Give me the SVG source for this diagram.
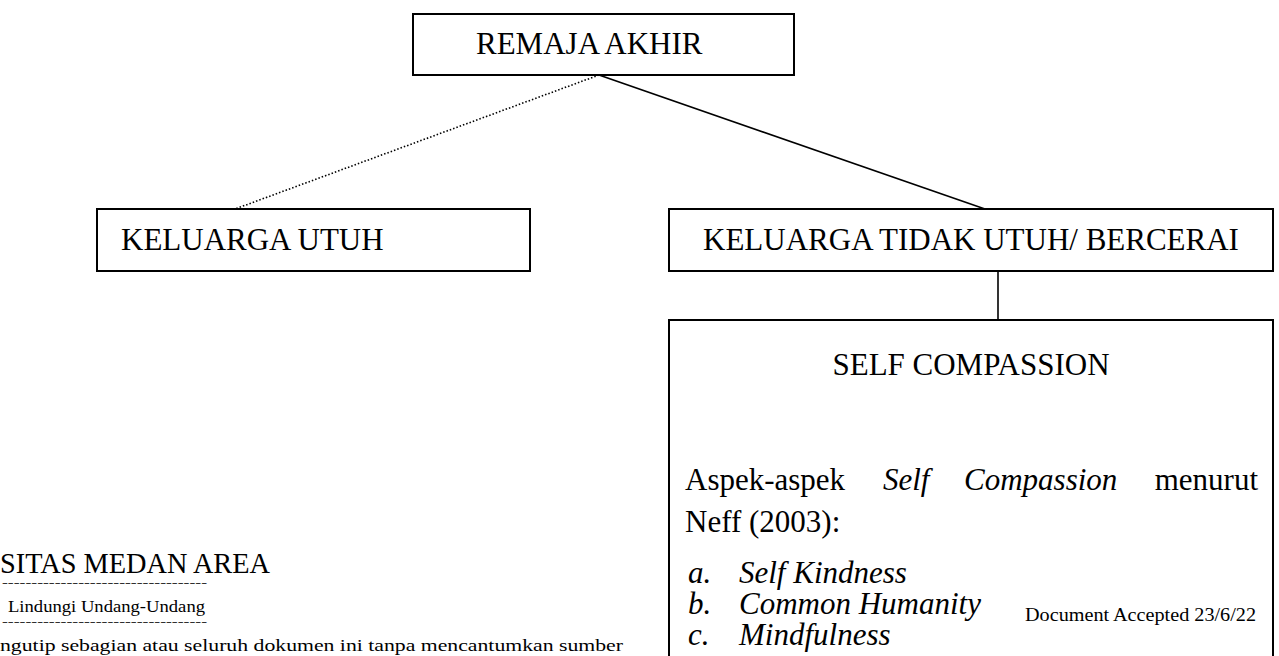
<svg xmlns="http://www.w3.org/2000/svg" width="1279" height="656" viewBox="0 0 1279 656">
<style>
.box{fill:#fff;stroke:#000;stroke-width:2}
.lbl{font-family:"Liberation Serif","Times New Roman",serif;font-size:31px;fill:#000}
.it{font-style:italic}
.wm{font-family:"Liberation Serif","Times New Roman",serif;fill:#000}
.con{stroke:#000;stroke-width:1.6;fill:none}
.dot{stroke-dasharray:1.5 2}
</style>
<rect width="1279" height="656" fill="#fff"/>
<g id="connectors">
<line class="con dot" x1="599" y1="75" x2="235" y2="209"/>
<line class="con" x1="599" y1="75" x2="985" y2="209"/>
<line class="con" x1="998" y1="271" x2="998" y2="320"/>
</g>
<g id="remaja-akhir">
<rect class="box" x="413" y="14" width="381" height="61"/>
<text class="lbl" x="476" y="54">REMAJA AKHIR</text>
</g>
<g id="keluarga-utuh">
<rect class="box" x="97" y="209" width="433" height="62"/>
<text class="lbl" x="121" y="250">KELUARGA UTUH</text>
</g>
<g id="keluarga-tidak-utuh">
<rect class="box" x="669" y="209" width="604" height="62"/>
<text class="lbl" x="971" y="250" text-anchor="middle">KELUARGA TIDAK UTUH/ BERCERAI</text>
</g>
<g id="self-compassion">
<rect class="box" x="669" y="320" width="604" height="360"/>
<text class="lbl" x="971" y="375" text-anchor="middle">SELF COMPASSION</text>
<text class="lbl" x="685" y="490">Aspek-aspek</text>
<text class="lbl it" x="883" y="490">Self</text>
<text class="lbl it" x="964" y="490">Compassion</text>
<text class="lbl" x="1258" y="490" text-anchor="end">menurut</text>
<text class="lbl" x="685" y="532">Neff (2003):</text>
<text class="lbl it" x="688" y="583">a.</text>
<text class="lbl it" x="739" y="583">Self Kindness</text>
<text class="lbl it" x="688" y="614">b.</text>
<text class="lbl it" x="739" y="614">Common Humanity</text>
<text class="lbl it" x="688" y="645">c.</text>
<text class="lbl it" x="739" y="645">Mindfulness</text>
<text class="wm" x="1025" y="621" font-size="18" textLength="231" lengthAdjust="spacingAndGlyphs">Document Accepted 23/6/22</text>
</g>
<g id="watermark">
<text class="wm" x="0" y="573" font-size="30" textLength="270" lengthAdjust="spacingAndGlyphs">SITAS MEDAN AREA</text>
<text class="wm" x="2" y="586" font-size="11" textLength="205" lengthAdjust="spacingAndGlyphs">-----------------------------------</text>
<text class="wm" x="8" y="612" font-size="17" textLength="197" lengthAdjust="spacingAndGlyphs">Lindungi Undang-Undang</text>
<text class="wm" x="2" y="625" font-size="11" textLength="205" lengthAdjust="spacingAndGlyphs">-----------------------------------</text>
<text class="wm" x="0" y="651" font-size="17" textLength="623" lengthAdjust="spacingAndGlyphs">ngutip sebagian atau seluruh dokumen ini tanpa mencantumkan sumber</text>
</g>
</svg>
